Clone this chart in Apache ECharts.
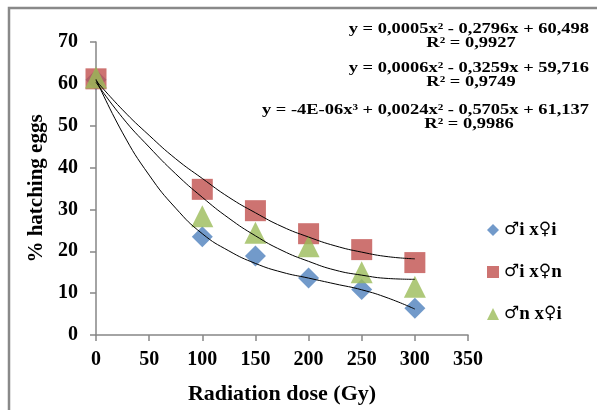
<!DOCTYPE html>
<html>
<head>
<meta charset="utf-8">
<script src="https://cdn.jsdelivr.net/npm/echarts@6/dist/echarts.min.js"></script>
<style>html,body{margin:0;padding:0;background:#fff}#c{width:597px;height:410px}</style>
</head>
<body>
<div id="c"></div>
<script>
var doses = [0, 100, 150, 200, 250, 300];
var seriesNames = ['♂i x♀i', '♂i x♀n', '♂n x♀i'];
var ixi = [61.0, 23.5, 18.9, 13.6, 10.9, 6.4];
var ixn = [61.2, 34.8, 29.7, 24.2, 20.4, 17.3];
var nxi = [61.5, 28.4, 24.4, 21.2, 15.0, 11.5];
// trendline curves at these doses
var trendX = [0, 25, 50, 75, 100, 125, 150, 175, 200, 225, 250, 275, 300];
var trendIxi = [61.1, 48.3, 38.2, 30.3, 24.2, 20.1, 17.1, 15.0, 13.6, 12.2, 10.8, 8.8, 6.2];
var trendIxn = [60.8, 53.8, 47.7, 42.1, 37.4, 32.9, 29.2, 25.9, 23.4, 21.3, 19.8, 18.7, 18.2];
var trendNxi = [60.4, 51.9, 44.9, 38.5, 32.9, 27.9, 23.7, 20.2, 17.6, 15.5, 14.3, 13.5, 13.3];
var xTicks = [0, 50, 100, 150, 200, 250, 300, 350];
var yTicks = [0, 10, 20, 30, 40, 50, 60, 70];
var equations = [
  'y = 0,0005x² - 0,2796x + 60,498', 'R² = 0,9927',
  'y = 0,0006x² - 0,3259x + 59,716', 'R² = 0,9749',
  'y = -4E-06x³ + 0,0024x² - 0,5705x + 61,137', 'R² = 0,9986'
];

function pairs(xs, ys) { return xs.map(function (x, i) { return [x, ys[i]]; }); }

var serif = '"Liberation Serif", "Times New Roman", serif';
var chart = echarts.init(document.getElementById('c'));
var eqFont = 'bold 15px ' + serif;
function eqText(txt, x, y, align) {
  return { type: 'text', x: x, y: y, scaleX: 1.23, silent: true,
    style: { text: txt, font: eqFont, fill: '#000', align: align, verticalAlign: 'middle' } };
}
chart.setOption({
  animation: false,
  backgroundColor: '#fff',
  grid: { left: 96, top: 42, width: 372, height: 296, containLabel: false },
  xAxis: {
    type: 'value', min: xTicks[0], max: xTicks[xTicks.length - 1], interval: 50,
    name: 'Radiation dose (Gy)', nameLocation: 'middle', nameGap: 48,
    nameTextStyle: { fontFamily: serif, fontWeight: 'bold', fontSize: 22, color: '#000' },
    axisLine: { lineStyle: { color: '#868686', width: 1.5 } },
    axisTick: { show: true, length: 6, lineStyle: { color: '#868686', width: 1.5 } },
    axisLabel: { fontFamily: serif, fontWeight: 'bold', fontSize: 20, color: '#000', margin: 15 },
    splitLine: { show: false }
  },
  yAxis: {
    type: 'value', min: yTicks[0], max: yTicks[yTicks.length - 1], interval: 10,
    name: '% hatching eggs', nameLocation: 'middle', nameGap: 48,
    nameTextStyle: { fontFamily: serif, fontWeight: 'bold', fontSize: 21, color: '#000' },
    axisLine: { show: true, lineStyle: { color: '#868686', width: 1.5 } },
    axisTick: { show: true, length: 6, lineStyle: { color: '#868686', width: 1.5 } },
    axisLabel: { fontFamily: serif, fontWeight: 'bold', fontSize: 20, color: '#000', margin: 18 },
    splitLine: { show: false }
  },
  legend: {
    orient: 'vertical', left: 482, top: 214, itemGap: 20,
    itemWidth: 12, itemHeight: 12,
    data: [
      { name: seriesNames[0], icon: 'diamond' },
      { name: seriesNames[1], icon: 'rect' },
      { name: seriesNames[2], icon: 'triangle' }
    ],
    formatter: function (n) {
      return n.replace(/♂/g, '{s|♂}').replace(/♀/g, '{s|♀}');
    },
    textStyle: {
      fontFamily: serif, fontWeight: 'bold', fontSize: 19, color: '#000', lineHeight: 22,
      rich: { s: { fontFamily: '"DejaVu Sans"', fontWeight: 'normal', fontSize: 17, color: '#000', lineHeight: 22 } }
    }
  },
  graphic: [
    { type: 'rect', silent: true, shape: { x: 9, y: 8, width: 700, height: 500 },
      style: { fill: null, stroke: '#898989', lineWidth: 2.5 } },
    eqText(equations[0], 589, 29, 'right'),
    eqText(equations[1], 471, 43, 'center'),
    eqText(equations[2], 589, 68, 'right'),
    eqText(equations[3], 471, 82, 'center'),
    eqText(equations[4], 589, 110, 'right'),
    eqText(equations[5], 469, 124, 'center')
  ],
  series: [
    { name: seriesNames[0], type: 'scatter', symbol: 'diamond', symbolSize: [21, 21],
      itemStyle: { color: '#4F81BD' }, data: pairs(doses, ixi), z: 2 },
    { name: seriesNames[1], type: 'scatter', symbol: 'rect', symbolSize: [21, 21],
      itemStyle: { color: '#C0504D' }, data: pairs(doses, ixn), z: 3 },
    { name: seriesNames[2], type: 'scatter', symbol: 'triangle', symbolSize: [22, 22],
      itemStyle: { color: '#9BBB59' }, data: pairs(doses, nxi), z: 4 },
    { name: 'trend1', type: 'line', smooth: true, symbol: 'none', data: pairs(trendX, trendIxi),
      lineStyle: { color: '#000', width: 1 }, z: 5, silent: true },
    { name: 'trend2', type: 'line', smooth: true, symbol: 'none', data: pairs(trendX, trendIxn),
      lineStyle: { color: '#000', width: 1 }, z: 5, silent: true },
    { name: 'trend3', type: 'line', smooth: true, symbol: 'none', data: pairs(trendX, trendNxi),
      lineStyle: { color: '#000', width: 1 }, z: 5, silent: true }
  ]
});
</script>
</body>
</html>
